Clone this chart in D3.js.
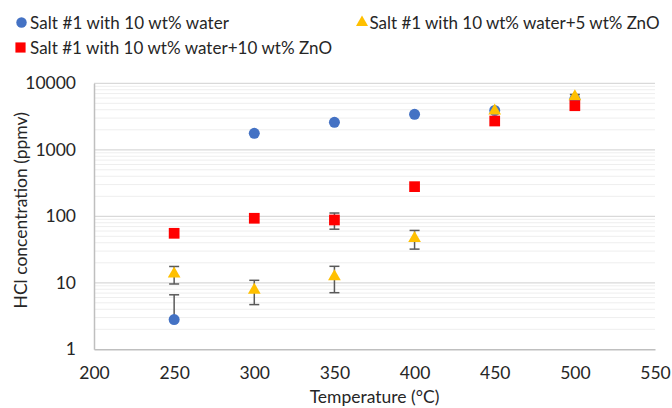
<!DOCTYPE html>
<html><head><meta charset="utf-8">
<script src="https://cdn.jsdelivr.net/npm/d3@7"></script>
<style>body{margin:0;background:#fff}svg{display:block}text{font-family:Lato,"Liberation Sans",sans-serif;fill:#262626}</style>
</head><body><svg id="c" width="672" height="408"></svg>
<script>
const temps = [250, 300, 350, 400, 450, 500];
const seriesNames = ["Salt #1 with 10 wt% water", "Salt #1 with 10 wt% water+5 wt% ZnO", "Salt #1 with 10 wt% water+10 wt% ZnO"];
const water = [2.8, 1770, 2590, 3420, 3900, 5800];
const waterErr = [3.8, 0, 0, 0, 0, 0];
const zno5 = [13.6, 7.8, 12.4, 46.7, 3850, 6300];
const zno5Err = [4, 3.1, 5.3, 14.6, 0, 500];
const zno10 = [55.5, 93.4, 88, 279, 2710, 4600];
const zno10Err = [0, 0, 24, 0, 0, 0];
const xTicks = [200, 250, 300, 350, 400, 450, 500, 550];
const yTicks = [1, 10, 100, 1000, 10000];

const colors = ["#4472C4", "#FFC000", "#FF0000"];
const shapes = [d3.symbolCircle, d3.symbolTriangle, d3.symbolSquare];
const sizes = [95, 70, 115];

const svg = d3.select("#c");
const L = 94, R = 655, T = 83.3, B = 349.3;
const x = d3.scaleLinear().domain([200, 550]).range([L, R]);
const y = d3.scaleLog().domain([1, 10000]).range([B, T]);

// gridlines
const minor = [];
for (let d = 1; d < 10000; d *= 10) for (let k = 2; k <= 9; k++) minor.push(d * k);
svg.append("g").selectAll("line").data(minor).join("line")
  .attr("x1", L).attr("x2", R).attr("y1", d => y(d)).attr("y2", d => y(d))
  .attr("stroke", "#eeeeee").attr("stroke-width", 1);
svg.append("g").selectAll("line").data(yTicks.slice(1)).join("line")
  .attr("x1", L).attr("x2", R).attr("y1", d => y(d)).attr("y2", d => y(d))
  .attr("stroke", "#d9d9d9").attr("stroke-width", 1.2);

// axes
const xAxis = svg.append("g").attr("transform", `translate(0,${B})`)
  .call(d3.axisBottom(x).tickValues(xTicks).tickSize(0).tickPadding(17).tickFormat(d3.format("d")));
const yAxis = svg.append("g").attr("transform", `translate(${L},0)`)
  .call(d3.axisLeft(y).tickValues(yTicks).tickSize(0).tickPadding(18).tickFormat(d3.format("d")));
[xAxis, yAxis].forEach(a => {
  a.select(".domain").attr("stroke", "#bfbfbf").attr("stroke-width", 1.5);
  a.selectAll("text").attr("font-size", 17.5).attr("fill", "#262626").attr("font-family", "Lato, sans-serif");
});

// axis titles
svg.append("text").attr("x", (L + R) / 2).attr("y", 403).attr("text-anchor", "middle")
  .attr("font-size", 17.5).text("Temperature (°C)");
svg.append("text").attr("transform", `translate(27,${(T + B) / 2 - 6}) rotate(-90)`)
  .attr("text-anchor", "middle").attr("font-size", 17.5)
  .text("HCl concentration (ppmv)");

// series
const series = [
  {vals: water, err: waterErr},
  {vals: zno5, err: zno5Err},
  {vals: zno10, err: zno10Err}
];
series.forEach((s, i) => {
  const g = svg.append("g");
  const pts = temps.map((t, j) => ({t, v: s.vals[j], e: s.err[j]}));
  const eb = pts.filter(p => p.e > 0);
  const top = p => y(p.v + p.e);
  const bot = p => (p.v - p.e > 0 ? y(p.v - p.e) : y(p.v));
  g.selectAll(".ev").data(eb).join("line").attr("x1", p => x(p.t)).attr("x2", p => x(p.t))
    .attr("y1", top).attr("y2", bot).attr("stroke", "#595959").attr("stroke-width", 1.5);
  g.selectAll(".ct").data(eb).join("line").attr("x1", p => x(p.t) - 5).attr("x2", p => x(p.t) + 5)
    .attr("y1", top).attr("y2", top).attr("stroke", "#595959").attr("stroke-width", 1.5);
  g.selectAll(".cb").data(eb.filter(p => p.v - p.e > 0)).join("line").attr("x1", p => x(p.t) - 5).attr("x2", p => x(p.t) + 5)
    .attr("y1", bot).attr("y2", bot).attr("stroke", "#595959").attr("stroke-width", 1.5);
  g.selectAll("path").data(pts).join("path")
    .attr("d", d3.symbol().type(shapes[i]).size(sizes[i]))
    .attr("transform", p => `translate(${x(p.t)},${y(p.v)})`)
    .attr("fill", colors[i]);
});

// legend
const legend = [
  {x: 21.5, y: 22.5, tx: 30, w: 199},
  {x: 362, y: 22.5, tx: 369.5, w: 290},
  {x: 20.5, y: 47.5, tx: 30, w: 302}
];
legend.forEach((l, i) => {
  svg.append("path").attr("d", d3.symbol().type(shapes[i]).size(sizes[i] * 0.9)())
    .attr("transform", `translate(${l.x},${l.y})`).attr("fill", colors[i]);
  svg.append("text").attr("x", l.tx).attr("y", l.y + 6).attr("font-size", 17)
    .attr("textLength", l.w).attr("lengthAdjust", "spacing").text(seriesNames[i]);
});
</script></body></html>
